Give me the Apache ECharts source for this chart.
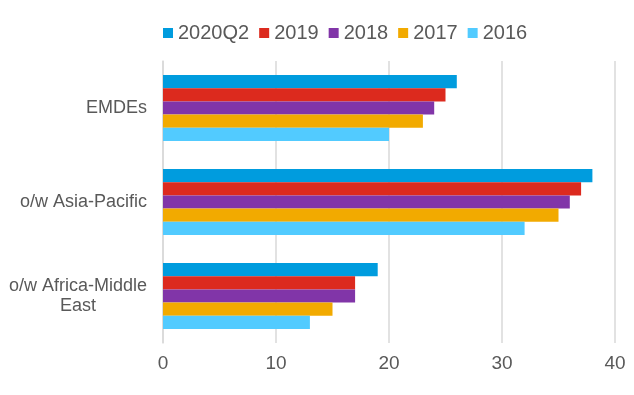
<!DOCTYPE html>
<html>
<head>
<meta charset="utf-8">
<script src="https://cdn.jsdelivr.net/npm/echarts@6/dist/echarts.min.js"></script>
<style>html,body{margin:0;padding:0;background:#fff;}#c{width:634px;height:395px;}</style>
</head>
<body>
<div id="c"></div>
<script>
var categories = ['EMDEs', 'o/w Asia-Pacific', 'o/w Africa-Middle East'];
var seriesNames = ['2020Q2', '2019', '2018', '2017', '2016'];
var v2020Q2 = [26, 38, 19];
var v2019 = [25, 37, 17];
var v2018 = [24, 36, 17];
var v2017 = [23, 35, 15];
var v2016 = [20, 32, 13];
var xTicks = [0, 10, 20, 30, 40];
var colors = ['#009CDE', '#DC2A1E', '#8135A8', '#F2AA00', '#52CBFF'];
var values = [v2020Q2, v2019, v2018, v2017, v2016];

var chart = echarts.init(document.getElementById('c'), null, {renderer: 'canvas'});
var font = 'Liberation Sans, Arial, sans-serif';
chart.setOption({
  animation: false,
  textStyle: {fontFamily: font},
  legend: {
    top: 18, left: 158,
    itemWidth: 10, itemHeight: 10, itemGap: 10,
    icon: 'rect',
    textStyle: {fontSize: 20, color: '#595959', fontFamily: font},
    data: seriesNames
  },
  grid: {left: 163, right: 19, top: 61, bottom: 52, containLabel: false},
  xAxis: {
    type: 'value', min: xTicks[0], max: xTicks[xTicks.length - 1], interval: 10,
    axisLine: {show: false}, axisTick: {show: false},
    splitLine: {show: true, lineStyle: {color: '#D9D9D9', width: 1.5}},
    axisLabel: {fontSize: 19, color: '#595959', margin: 11, fontFamily: font}
  },
  yAxis: {
    type: 'category', inverse: true, data: categories,
    axisLine: {show: true, lineStyle: {color: '#D9D9D9', width: 1.5}},
    axisTick: {show: false},
    axisLabel: {
      fontSize: 18, color: '#595959', margin: 16, fontFamily: font,
      formatter: function (v) {
        if (v === 'o/w Africa-Middle East') {
          return '{a|o/w Africa-Middle}\n{a|East}';
        }
        return v;
      },
      rich: {a: {width: 138, align: 'center', fontSize: 18, color: '#595959', lineHeight: 20, fontFamily: font}}
    }
  },
  series: seriesNames.map(function (n, i) {
    return {
      name: n, type: 'bar', data: values[i],
      barGap: '0%', barCategoryGap: '30%',
      itemStyle: {color: colors[i]}
    };
  })
});
</script>
</body>
</html>
